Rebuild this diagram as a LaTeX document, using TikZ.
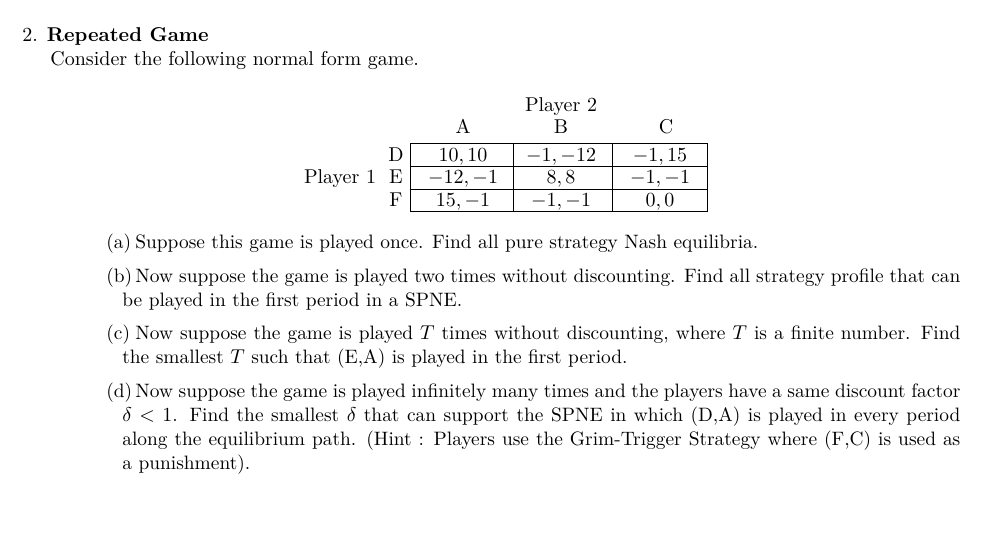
\documentclass[tikz,border=0pt]{standalone}
\begin{document}
\begin{tikzpicture}[x=0.5pt,y=-0.5pt,
  txt/.style={anchor=base west,inner sep=0pt},
  cell/.style={anchor=base,inner sep=0pt},
  item/.style={anchor=north west,inner sep=0pt,text width=419pt,align=justify,font=\fontsize{9.7}{12}\selectfont}]
\newcommand{\itlab}[1]{\hspace*{-8pt}\makebox[14.5pt][l]{#1}}
\useasboundingbox (0,0) rectangle (1002,538);
\node[txt] (t1) at (22,41) {2. \textbf{Repeated Game}};
\node[txt] (t2) at (50,65) {Consider the following normal form game.};
\node[cell] (p2) at (561,111) {Player 2};
\node[cell] (ca) at (463,133) {A};
\node[cell] (cb) at (561,133) {B};
\node[cell] (cc) at (666,133) {C};
\node[cell] (p1) at (340,183) {Player 1};
\node[cell] (rd) at (396,161) {D};
\node[cell] (re) at (396,183) {E};
\node[cell] (rf) at (396,206) {F};
\draw[line width=0.4pt] (410,143) rectangle (707,211);
\draw[line width=0.4pt] (513,143) -- (513,211) (612,143) -- (612,211)
  (410,166) -- (707,166) (410,189) -- (707,189);
\node[cell] (dA) at (463,161) {$10,10$};
\node[cell] (dB) at (561,161) {$-1,-12$};
\node[cell] (dC) at (660,161) {$-1,15$};
\node[cell] (eA) at (463,183) {$-12,-1$};
\node[cell] (eB) at (561,183) {$8,8$};
\node[cell] (eC) at (660,183) {$-1,-1$};
\node[cell] (fA) at (463,206) {$15,-1$};
\node[cell] (fB) at (561,206) {$-1,-1$};
\node[cell] (fC) at (660,206) {$0,0$};
\node[item] (ia) at (122,234) {\itlab{(a)}Suppose this game is played once. Find all pure strategy Nash equilibria.};
\node[item] (ib) at (122,268) {\itlab{(b)}Now suppose the game is played two times without discounting. Find all strategy profile that can be played in the first period in a SPNE.};
\node[item] (ic) at (122,325) {\itlab{(c)}Now suppose the game is played $T$ times without discounting, where $T$ is a finite number. Find the smallest $T$ such that (E,A) is played in the first period.};
\node[item] (id) at (122,383) {\itlab{(d)}Now suppose the game is played infinitely many times and the players have a same discount factor $\delta<1$. Find the smallest $\delta$ that can support the SPNE in which (D,A) is played in every period along the equilibrium path. (Hint : Players use the Grim-Trigger Strategy where (F,C) is used as a punishment).};
\end{tikzpicture}
\end{document}
